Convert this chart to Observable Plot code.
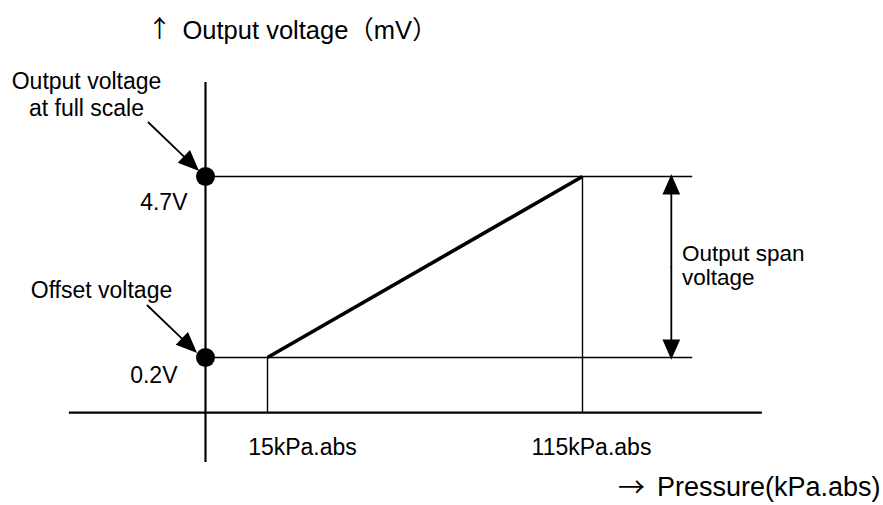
<!DOCTYPE html>
<html><head><meta charset="utf-8">
<script src="https://cdn.jsdelivr.net/npm/d3@7"></script>
<script src="https://cdn.jsdelivr.net/npm/@observablehq/plot@0.6"></script>
<style>body{margin:0;background:#fff;} svg{display:block}</style>
</head><body><div id="chart"></div>
<script>
// ---- data ----
const pressureTicks = [15, 115];                 // kPa.abs
const pressureLabels = ["15kPa.abs", "115kPa.abs"];
const voltageTicks = [0.2, 4.7];                 // V
const voltageLabels = ["0.2V", "4.7V"];
const outputPressure = [15, 115];                // output line
const outputVoltage = [0.2, 4.7];
const titleY = ["↑", "Output voltage（mV）"];
const titleX = ["→", "Pressure(kPa.abs)"];
const fullScaleNote = ["Output voltage", "at full scale"];
const offsetNote = ["Offset voltage"];
const spanNote = ["Output span", "voltage"];

// ---- layout (data units) ----
const W = 883, H = 505;
const xDomain = [-69.76, 210.56];
const yDomain = [-3.48, 9.076];
const originP = -4.68, originV = -1.17;
const axisPExtent = [-47.9, 172.1];
const axisVExtent = [-2.41, 7.04];
const refLineEnd = 150;
const spanP = 143.2;
const FONT = "'Liberation Sans', Arial, 'Noto Sans CJK JP', sans-serif";
const CJK = "'Noto Sans CJK JP', 'Liberation Sans', sans-serif";

const px = p => (p - xDomain[0]) / (xDomain[1] - xDomain[0]) * W;
const py = v => H - (v - yDomain[0]) / (yDomain[1] - yDomain[0]) * H;

const headW = 7.5;
function arrowMark(p1, v1, p2, v2, hl = 17) {
  const dx = px(p2) - px(p1), dy = py(v2) - py(v1);
  const len = Math.hypot(dx, dy);
  const rot = Math.atan2(dx, -dy) * 180 / Math.PI;
  const shape = {draw(ctx, l) {
    ctx.moveTo(0, 0); ctx.lineTo(0, -(l - hl));
    ctx.moveTo(0, -l); ctx.lineTo(-headW, -(l - hl)); ctx.lineTo(headW, -(l - hl)); ctx.closePath();
  }};
  return Plot.vector([0], {x: () => p1, y: () => v1, length: len, rotate: rot, anchor: "start",
    shape, fill: "black", stroke: "black", strokeWidth: 1.8, strokeLinejoin: "miter"});
}

// annotation arrows (tail -> tip)
const noteArrows = [
  {p1: -22.78, v1: 6.043, p2: -7.22, v2: 4.874},
  {p1: -23.10, v1: 1.493, p2: -7.86, v2: 0.349}
];
const spanMid = (voltageTicks[0] + voltageTicks[1]) / 2;

const texts = [
  {t: titleY[0], p: -19.29, v: 8.355, a: "middle", s: 24, f: CJK},
  {t: titleY[1], p: -11.98, v: 8.33, a: "start", s: 25.5, f: FONT},
  {t: fullScaleNote[0], p: -42.46, v: 7.047, a: "middle", s: 23, f: FONT},
  {t: fullScaleNote[1], p: -42.46, v: 6.376, a: "middle", s: 23, f: FONT},
  {t: voltageLabels[1], p: -10.40, v: 4.039, a: "end", s: 23, f: FONT},
  {t: offsetNote[0], p: -37.70, v: 1.851, a: "middle", s: 23, f: FONT},
  {t: voltageLabels[0], p: -13.57, v: -0.262, a: "end", s: 23, f: FONT},
  {t: spanNote[0], p: 146.59, v: 2.771, a: "start", s: 22.5, f: FONT},
  {t: spanNote[1], p: 146.59, v: 2.18, a: "start", s: 22.5, f: FONT},
  {t: pressureLabels[0], p: 26.11, v: -2.053, a: "middle", s: 23, f: FONT},
  {t: pressureLabels[1], p: 117.86, v: -2.053, a: "middle", s: 23, f: FONT},
  {t: titleX[0], p: 130.56, v: -3.06, a: "middle", s: 27, f: CJK},
  {t: titleX[1], p: 209.6, v: -3.017, a: "end", s: 27, f: FONT}
];

const chart = Plot.plot({
  width: W, height: H, margin: 0,
  x: {domain: xDomain, axis: null},
  y: {domain: yDomain, axis: null},
  style: {background: "#fff", color: "black", fontFamily: FONT},
  marks: [
    // axes
    Plot.ruleY([originV], {x1: axisPExtent[0], x2: axisPExtent[1], strokeWidth: 2.2}),
    Plot.ruleX([originP], {y1: axisVExtent[0], y2: axisVExtent[1], strokeWidth: 2.2}),
    // reference lines
    Plot.ruleY(voltageTicks, {x1: originP, x2: refLineEnd, strokeWidth: 1.4}),
    Plot.ruleX(pressureTicks, {y1: originV, y2: (d, i) => outputVoltage[i], strokeWidth: 1.4}),
    // output line
    Plot.line(outputPressure.map((p, i) => ({p, v: outputVoltage[i]})), {x: "p", y: "v", strokeWidth: 3.6, strokeLinecap: "butt"}),
    // dots on axis
    Plot.dot(voltageTicks, {x: originP, y: d => d, r: 9.5, fill: "black"}),
    // span arrow
    arrowMark(spanP, spanMid, spanP, voltageTicks[1]),
    arrowMark(spanP, spanMid, spanP, voltageTicks[0]),
    // note arrows
    ...noteArrows.map(a => arrowMark(a.p1, a.v1, a.p2, a.v2, 18)),
    // texts
    ...texts.map(d => Plot.text([d], {
      x: "p", y: "v", text: "t", textAnchor: d.a, fontSize: d.s, fill: "black", fontFamily: d.f
    }))
  ]
});
document.getElementById("chart").append(chart);
</script></body></html>
